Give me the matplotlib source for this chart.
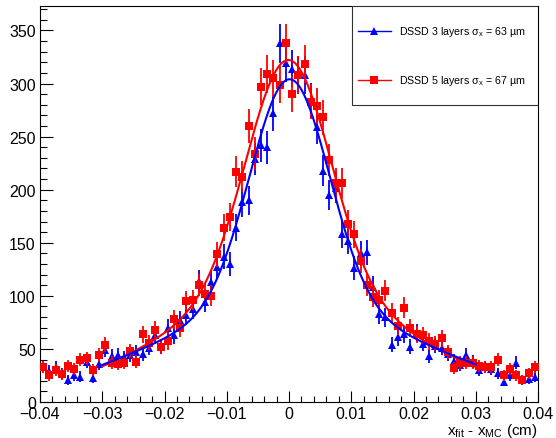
import numpy as np
import matplotlib
matplotlib.use("Agg")
import matplotlib.pyplot as plt
from matplotlib.lines import Line2D
from matplotlib.patches import Rectangle
from matplotlib.ticker import MultipleLocator

plt.rcParams['font.family'] = ['Liberation Sans', 'DejaVu Sans']
plt.rcParams['mathtext.default'] = 'regular'

# ---------------- data ----------------
x_lo, x_hi, n_bins = -0.04, 0.04, 80

counts_3layers = [
    34, 29, 33, 27, 21, 25, 24, 38, 23, 36,
    49, 43, 44, 42, 44, 47, 45, 51, 63, 52,
    70, 63, 77, 82, 88, 114, 94, 113, 127, 137,
    130, 164, 188, 190, 229, 242, 240, 272, 338, 319,
    314, 308, 308, 284, 259, 218, 195, 202, 158, 152,
    126, 140, 141, 108, 83, 80, 54, 61, 64, 52,
    65, 55, 43, 53, 51, 45, 39, 35, 44, 38,
    30, 33, 31, 27, 19, 25, 37, 21, 22, 24,
]
counts_5layers = [
    33, 25, 30, 26, 34, 31, 40, 41, 30, 44,
    54, 37, 36, 37, 48, 38, 64, 56, 68, 52,
    57, 78, 70, 95, 96, 110, 102, 100, 139, 164,
    174, 217, 212, 260, 234, 297, 309, 305, 299, 338,
    290, 308, 318, 283, 279, 268, 228, 206, 206, 168,
    158, 133, 110, 99, 96, 105, 84, 72, 89, 70,
    64, 63, 57, 55, 60, 47, 32, 37, 37, 37,
    34, 33, 33, 40, 25, 31, 25, 21, 27, 33,
]
sigma_um = [63, 67]
fit_range = [-0.03, 0.03]
labels = [u"DSSD 3 layers \u03c3$_x$ = 63 \u00b5m", u"DSSD 5 layers \u03c3$_x$ = 67 \u00b5m"]
colors = ["#0000ff", "#ff0000"]
markers = ["^", "s"]

edges = np.linspace(x_lo, x_hi, n_bins + 1)
centers = 0.5 * (edges[:-1] + edges[1:])


def gauss(x, m, s):
    return np.exp(-0.5 * ((x - m) / s) ** 2)


def fit_double_gauss(x, y, s1, rng):
    """chi2 fit (errors sqrt(N)) of A1*G(m,s1) + A2*G(m,s2) over rng."""
    x = np.asarray(x, float)
    y = np.asarray(y, float)
    sel = (x >= rng[0]) & (x <= rng[1])
    xs, ys = x[sel], y[sel]
    w = 1.0 / np.sqrt(np.maximum(ys, 1.0))
    best = None
    for m in np.linspace(-0.0015, 0.0015, 31):
        g1 = gauss(xs, m, s1)
        for s2 in np.linspace(0.008, 0.05, 85):
            G = np.column_stack([g1, gauss(xs, m, s2)])
            A, *_ = np.linalg.lstsq(G * w[:, None], ys * w, rcond=None)
            chi2 = np.sum(((G @ A - ys) * w) ** 2)
            if best is None or chi2 < best[0]:
                best = (chi2, m, A[0], A[1], s2)
    _, m, a1, a2, s2 = best
    return lambda t: a1 * gauss(t, m, s1) + a2 * gauss(t, m, s2)


# ---------------- figure ----------------
W, H = 556, 439
fig = plt.figure(figsize=(W / 100, H / 100), dpi=100)
L, R, T, B = 40, 538, 7, 403
ax = fig.add_axes([L / W, 1 - B / H, (R - L) / W, (B - T) / H])

series = [counts_5layers, counts_3layers]
idx = [1, 0]
for k, cnt in zip(idx, series):
    cnt = np.asarray(cnt, float)
    ax.errorbar(centers, cnt, yerr=np.sqrt(cnt), fmt=markers[k], color=colors[k],
                ms=6.0 if k == 1 else 5.8, elinewidth=1.3, capsize=0, mew=0, zorder=3 + k)

xf = np.linspace(fit_range[0], fit_range[1], 500)
for k, cnt in zip(idx, series):
    f = fit_double_gauss(centers, cnt, sigma_um[k] * 1e-4, fit_range)
    ax.plot(xf, f(xf), color=colors[k], lw=1.5, zorder=6)

ax.set_xlim(x_lo, x_hi)
ax.set_ylim(0, 373)
ax.xaxis.set_major_locator(MultipleLocator(0.01))
ax.xaxis.set_minor_locator(MultipleLocator(0.002))
ax.yaxis.set_major_locator(MultipleLocator(50))
ax.yaxis.set_minor_locator(MultipleLocator(10))
ax.set_xticks([-0.04, -0.03, -0.02, -0.01, 0, 0.01, 0.02, 0.03, 0.04])
ax.set_xticklabels([u"\u22120.04", u"\u22120.03", u"\u22120.02", u"\u22120.01", "0",
                    "0.01", "0.02", "0.03", "0.04"])
ax.tick_params(axis='both', which='both', direction='in', top=False, right=False,
               labelsize=11.5, width=0.8, color='black')
ax.tick_params(axis='x', which='major', length=8, pad=3)
ax.tick_params(axis='x', which='minor', length=4.3)
ax.tick_params(axis='y', which='major', length=9.5, pad=3)
ax.tick_params(axis='y', which='minor', length=5)
for s in ax.spines.values():
    s.set_linewidth(0.8)

ax.set_xlabel("x$_{fit}$ - x$_{MC}$ (cm)", fontsize=11)
ax.xaxis.set_label_coords(1.0, -0.048)
ax.xaxis.label.set_horizontalalignment('right')
ax.xaxis.label.set_verticalalignment('top')

# legend box (ROOT TLegend style)
lx0 = (352 - L) / (R - L)
ly0 = (B - 106) / (B - T)
ax.add_patch(Rectangle((lx0, ly0), 1 - lx0, 1 - ly0, transform=ax.transAxes,
                       facecolor='white', edgecolor='#333333', lw=0.8, zorder=10))
entry_y = [(B - 32) / (B - T), (B - 81) / (B - T)]
hx0, hx1 = (358 - L) / (R - L), (391 - L) / (R - L)
tx = (399 - L) / (R - L)
for k in range(2):
    ax.add_line(Line2D([hx0, hx1], [entry_y[k]] * 2, color=colors[k], lw=1.0,
                       transform=ax.transAxes, zorder=11))
    ax.add_line(Line2D([(hx0 + hx1) / 2], [entry_y[k]], marker=markers[k], color=colors[k],
                       ms=6, mew=0, transform=ax.transAxes, zorder=12))
    ax.text(tx, entry_y[k], labels[k], transform=ax.transAxes, fontsize=7.7,
            va='center', ha='left', color='black', zorder=12)

fig.savefig("out.png", dpi=100)
